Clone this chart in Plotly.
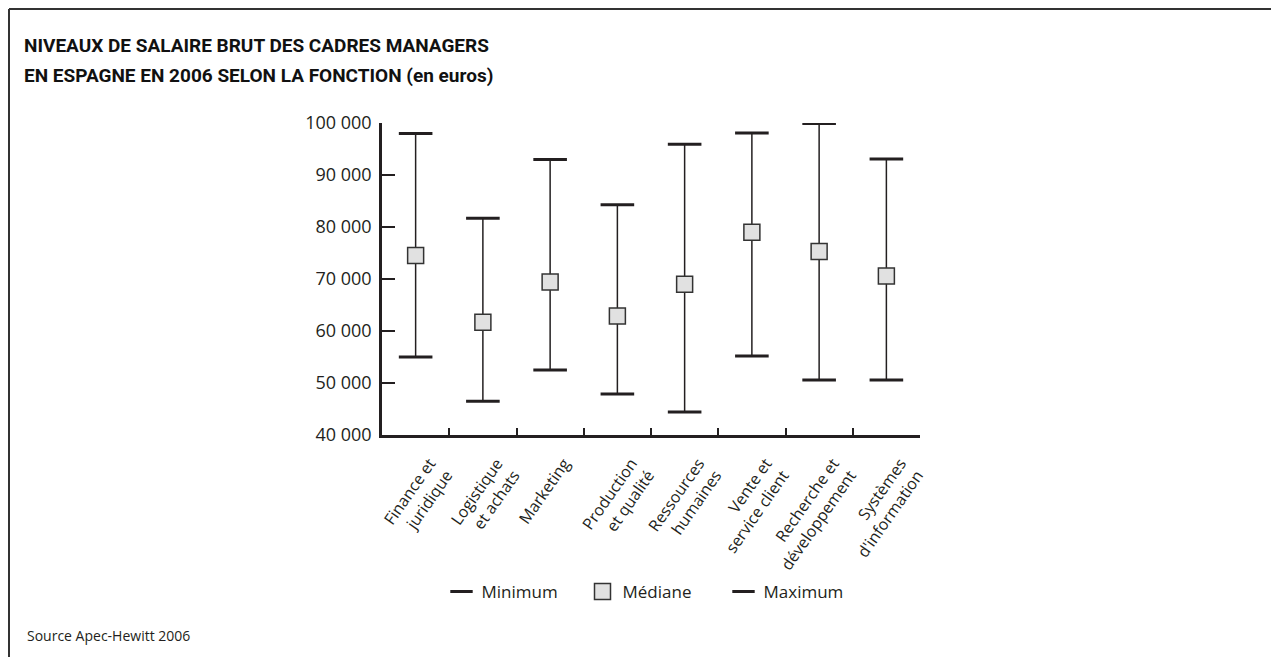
import plotly.graph_objects as go

# ------------------------------------------------------------
# Data
# ------------------------------------------------------------
categories = [
    "Finance et<br>juridique",
    "Logistique<br>et achats",
    "Marketing",
    "Production<br>et qualité",
    "Ressources<br>humaines",
    "Vente et<br>service client",
    "Recherche et<br>développement",
    "Systèmes<br>d'information",
]
minimum = [55000, 46500, 52500, 47900, 44400, 55200, 50600, 50600]
mediane = [74500, 61700, 69400, 62900, 69000, 79000, 75300, 70600]
maximum = [98000, 81700, 93000, 84300, 95900, 98100, 99900, 93100]

y_ticks = [40000, 50000, 60000, 70000, 80000, 90000, 100000]
y_labels = ["40 000", "50 000", "60 000", "70 000", "80 000", "90 000", "100 000"]

title_lines = ["NIVEAUX DE SALAIRE BRUT DES CADRES MANAGERS",
               "EN ESPAGNE EN 2006 SELON LA FONCTION (en euros)"]

# ------------------------------------------------------------
# Page geometry (screen pixels; the page body adds an 8px offset)
# ------------------------------------------------------------
OFF = 8
W, H = 1279 - OFF, 657 - OFF
L, R, T, B = 382, 920, 123, 435   # plot area on screen

def px(x):
    return (x - L) / (R - L)

def py(y):
    return (B - y) / (B - T)

INK = "#231f20"
FONT = "Open Sans, sans-serif"

# whiskers, one broken line through all categories
wx, wy = [], []
for c, lo, hi in zip(categories, minimum, maximum):
    wx += [c, c, None]
    wy += [lo, hi, None]

fig = go.Figure()
fig.add_trace(go.Scatter(x=wx, y=wy, mode="lines", line=dict(color=INK, width=1.5),
                         showlegend=False, hoverinfo="skip"))
fig.add_trace(go.Scatter(x=categories, y=minimum, mode="markers", name="Minimum",
                         marker=dict(symbol="line-ew", size=24, line=dict(color=INK, width=3))))
fig.add_trace(go.Scatter(x=categories, y=mediane, mode="markers", name="Médiane",
                         marker=dict(symbol="square", size=16, color="#e1e1e1",
                                     line=dict(color="#333333", width=1.5))))
fig.add_trace(go.Scatter(x=categories, y=maximum, mode="markers", name="Maximum",
                         marker=dict(symbol="line-ew", size=24, line=dict(color=INK, width=3))))

fig.update_layout(
    width=W, height=H,
    margin=dict(l=L - OFF, r=W - (R - OFF), t=T - OFF, b=H - (B - OFF), pad=0),
    paper_bgcolor="white", plot_bgcolor="white",
    font=dict(family=FONT, color=INK),
    xaxis=dict(
        type="category", range=[-0.5, 7.5], tickson="boundaries",
        showline=True, linecolor=INK, linewidth=2.5,
        ticks="inside", ticklen=7, tickwidth=2, tickcolor=INK,
        tickangle=-55, tickfont=dict(size=16, color=INK),
        ticklabelstandoff=10, ticklabelshift=14,
        showgrid=False, zeroline=False,
    ),
    yaxis=dict(
        range=[40000, 100000], tickvals=y_ticks, ticktext=y_labels,
        showline=True, linecolor=INK, linewidth=2.5,
        ticks="inside", ticklen=13, tickwidth=2, tickcolor=INK,
        ticklabelstandoff=4, tickfont=dict(size=18, color=INK),
        showgrid=False, zeroline=False,
    ),
    legend=dict(
        orientation="h", x=px(653), xanchor="center", y=py(592), yanchor="middle",
        font=dict(size=17, color=INK), itemsizing="trace", tracegroupgap=0,
        entrywidth=96,
    ),
    showlegend=True,
)

# title, two lines
for i, line in enumerate(title_lines):
    fig.add_annotation(text=line, xref="paper", yref="paper",
                       x=px(22), y=py(45 + 30 * i), xanchor="left", yanchor="middle",
                       showarrow=False,
                       font=dict(family="Roboto, sans-serif", size=19, color="#111111",
                                 weight="bold"))

# frame around the page (top and left edges)
fig.add_shape(type="line", xref="paper", yref="paper",
              x0=px(OFF + 1), x1=px(1290), y0=py(OFF + 1), y1=py(OFF + 1),
              line=dict(color="#333333", width=2))
fig.add_shape(type="line", xref="paper", yref="paper",
              x0=px(OFF + 1), x1=px(OFF + 1), y0=py(OFF + 1), y1=py(700),
              line=dict(color="#333333", width=2))

fig.add_annotation(text="Source Apec-Hewitt 2006", xref="paper", yref="paper",
                   x=px(25), y=py(635), xanchor="left", yanchor="middle",
                   showarrow=False, font=dict(size=14, color=INK))

fig.write_html("out.html")
